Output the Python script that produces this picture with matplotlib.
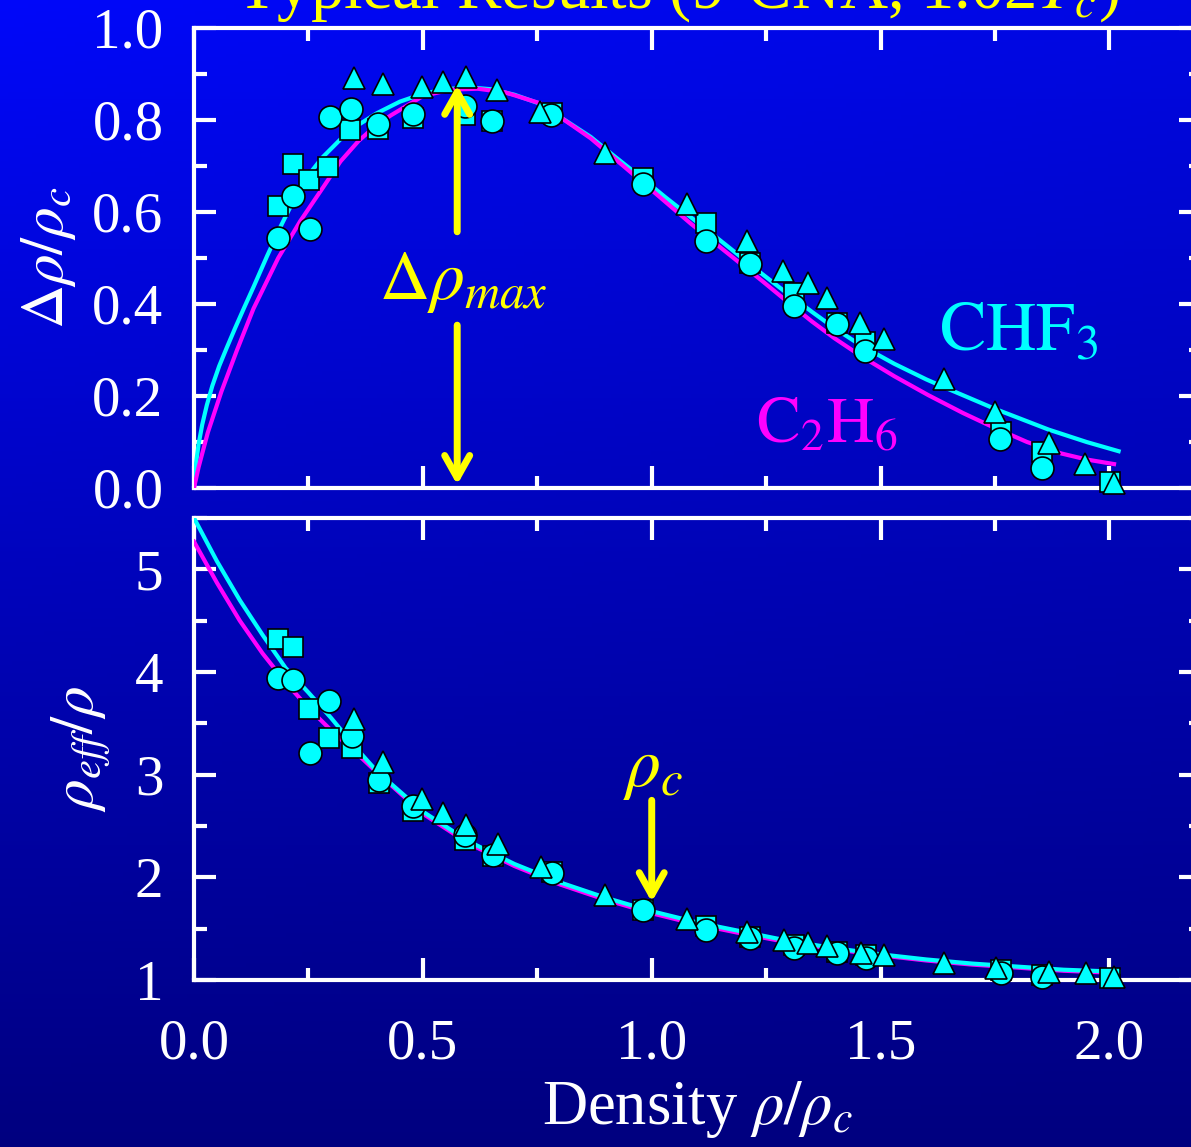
import numpy as np
import matplotlib
matplotlib.use('Agg')
import matplotlib.pyplot as plt
from matplotlib.ticker import MultipleLocator

plt.rcParams['font.family'] = ['Liberation Serif', 'DejaVu Serif']
plt.rcParams['mathtext.fontset'] = 'stix'

# ---- top panel: delta rho / rho_c ----
top_circ_x = [0.184, 0.217, 0.254, 0.298, 0.344, 0.403, 0.479, 0.591, 0.652, 0.781,
              0.980, 1.118, 1.214, 1.311, 1.405, 1.466, 1.761, 1.853]
top_circ_y = [0.543, 0.635, 0.563, 0.807, 0.824, 0.791, 0.813, 0.830, 0.798, 0.811,
              0.661, 0.537, 0.487, 0.396, 0.357, 0.298, 0.107, 0.043]
top_sq_x = [0.184, 0.217, 0.252, 0.293, 0.341, 0.403, 0.479, 0.591, 0.652, 0.783,
            0.980, 1.118, 1.214, 1.311, 1.405, 1.466, 1.763, 1.853, 2.002]
top_sq_y = [0.613, 0.704, 0.670, 0.698, 0.778, 0.780, 0.804, 0.811, 0.798, 0.815,
            0.674, 0.576, 0.490, 0.424, 0.359, 0.317, 0.122, 0.078, 0.013]
top_tri_x = [0.350, 0.414, 0.499, 0.543, 0.595, 0.663, 0.757, 0.897, 1.077, 1.208,
             1.287, 1.341, 1.383, 1.455, 1.508, 1.639, 1.750, 1.867, 1.947, 2.009]
top_tri_y = [0.891, 0.878, 0.872, 0.883, 0.893, 0.865, 0.817, 0.728, 0.617, 0.537,
             0.472, 0.445, 0.413, 0.359, 0.324, 0.237, 0.166, 0.098, 0.053, 0.010]

chf3_top_x = [0.0, 0.004, 0.01, 0.018, 0.028, 0.04, 0.055, 0.072, 0.09, 0.11, 0.13,
              0.16, 0.19, 0.22, 0.25, 0.28, 0.32, 0.36, 0.40, 0.45, 0.50, 0.55, 0.60,
              0.648, 0.70, 0.757, 0.81, 0.867, 0.92, 0.976, 1.03, 1.085, 1.16, 1.239,
              1.30, 1.35, 1.40, 1.457, 1.53, 1.60, 1.639, 1.75, 1.867, 1.95, 2.02]
chf3_top_y = [0.0, 0.05, 0.095, 0.138, 0.180, 0.222, 0.265, 0.306, 0.348, 0.393, 0.437,
              0.505, 0.57, 0.63, 0.68, 0.718, 0.758, 0.79, 0.815, 0.84, 0.857, 0.867, 0.871,
              0.867, 0.855, 0.835, 0.800, 0.763, 0.720, 0.676, 0.632, 0.589, 0.530, 0.467,
              0.420, 0.383, 0.347, 0.310, 0.270, 0.236, 0.219, 0.172, 0.127, 0.100, 0.080]
c2h6_top_x = [0.0, 0.01, 0.03, 0.06, 0.094, 0.13, 0.184, 0.232, 0.283, 0.32, 0.36,
              0.40, 0.43, 0.50, 0.56, 0.62, 0.68, 0.757, 0.867, 0.976, 1.085, 1.16, 1.239,
              1.30, 1.35, 1.40, 1.457, 1.53, 1.604, 1.68, 1.742, 1.82, 1.895, 1.95, 2.01]
c2h6_top_y = [0.0, 0.045, 0.12, 0.21, 0.30, 0.39, 0.50, 0.58, 0.655, 0.71, 0.755,
              0.79, 0.81, 0.852, 0.866, 0.868, 0.860, 0.836, 0.760, 0.668, 0.575, 0.515, 0.452,
              0.402, 0.362, 0.325, 0.287, 0.243, 0.202, 0.163, 0.134, 0.100, 0.075, 0.062, 0.052]

# ---- bottom panel: rho_eff / rho ----
bot_circ_x = [0.184, 0.217, 0.295, 0.254, 0.346, 0.405, 0.479, 0.591, 0.654, 0.783,
              0.980, 1.118, 1.214, 1.311, 1.405, 1.468, 1.763, 1.853]
bot_circ_y = [3.94, 3.92, 3.72, 3.21, 3.38, 2.95, 2.69, 2.41, 2.22, 2.04,
              1.68, 1.49, 1.41, 1.31, 1.26, 1.21, 1.07, 1.03]
bot_sq_x = [0.184, 0.217, 0.252, 0.295, 0.346, 0.405, 0.479, 0.591, 0.654, 0.783,
            0.980, 1.118, 1.214, 1.311, 1.405, 1.468, 1.763, 1.853, 2.002]
bot_sq_y = [4.32, 4.24, 3.64, 3.36, 3.26, 2.92, 2.65, 2.36, 2.21, 2.05,
            1.68, 1.53, 1.42, 1.34, 1.27, 1.24, 1.10, 1.05, 1.02]
bot_tri_x = [0.350, 0.414, 0.499, 0.543, 0.595, 0.665, 0.759, 0.897, 1.078, 1.209,
             1.289, 1.341, 1.383, 1.457, 1.508, 1.639, 1.753, 1.867, 1.948, 2.010]
bot_tri_y = [3.54, 3.12, 2.76, 2.63, 2.51, 2.32, 2.10, 1.83, 1.59, 1.47,
             1.39, 1.36, 1.33, 1.26, 1.24, 1.17, 1.12, 1.08, 1.07, 1.03]

chf3_bot_x = [0.0, 0.05, 0.10, 0.15, 0.20, 0.25, 0.30, 0.35, 0.40, 0.50, 0.60, 0.70,
              0.80, 0.90, 1.00, 1.10, 1.20, 1.30, 1.40, 1.50, 1.60, 1.70, 1.80, 1.90, 2.02]
chf3_bot_y = [5.50, 5.08, 4.70, 4.36, 4.04, 3.80, 3.55, 3.28, 3.03, 2.64, 2.35, 2.13,
              1.95, 1.80, 1.67, 1.56, 1.47, 1.38, 1.31, 1.25, 1.20, 1.16, 1.13, 1.10, 1.08]
c2h6_bot_x = [0.0, 0.05, 0.10, 0.15, 0.20, 0.25, 0.30, 0.35, 0.40, 0.50, 0.60, 0.70,
              0.80, 0.90, 1.00, 1.10, 1.20, 1.30, 1.40, 1.50, 1.60, 1.70, 1.80, 1.90, 2.01]
c2h6_bot_y = [5.27, 4.87, 4.50, 4.18, 3.90, 3.65, 3.43, 3.23, 3.02, 2.62, 2.33, 2.11,
              1.93, 1.78, 1.65, 1.54, 1.45, 1.365, 1.30, 1.24, 1.19, 1.15, 1.12, 1.09, 1.07]

CYAN = '#00ffff'
MAG = '#ff00ff'
YEL = '#ffff00'

fig = plt.figure(figsize=(11.91, 11.47), dpi=100)

# background gradient (bright blue top-left -> navy bottom)
bg = fig.add_axes([0, 0, 1, 1], zorder=-10)
yy, xx = np.mgrid[0:1:300j, 0:1:300j]
blue = 0.98 - 0.48 * yy - 0.09 * xx * (1 - yy)
img = np.dstack([np.zeros_like(blue), 0.03 * (1 - yy), blue])
bg.imshow(img, aspect='auto', extent=[0, 1, 0, 1], origin='upper')
bg.axis('off')

W, H = 1191, 1147
L, R = 194 / W, 1201 / W
ax1 = fig.add_axes([L, 1 - 488 / H, R - L, (488 - 28) / H])
ax2 = fig.add_axes([L, 1 - 980 / H, R - L, (980 - 518) / H])

mk = dict(ls='none', mfc=CYAN, mec='black', mew=1.2, zorder=5, clip_on=False)

for ax in (ax1, ax2):
    ax.set_facecolor('none')
    for s in ax.spines.values():
        s.set_color('white')
        s.set_linewidth(3)
    ax.set_xlim(0, 2.2)
    ax.xaxis.set_major_locator(MultipleLocator(0.5))
    ax.xaxis.set_minor_locator(MultipleLocator(0.25))
    ax.tick_params(which='both', direction='in', color='white', width=3,
                   top=True, right=True, labelcolor='white', labelsize=41)
    ax.tick_params(which='major', length=16)
    ax.tick_params(which='minor', length=9)

# top panel
ax1.plot(chf3_top_x, chf3_top_y, color=CYAN, lw=3, zorder=3, solid_joinstyle='round')
ax1.plot(c2h6_top_x, c2h6_top_y, color=MAG, lw=3, zorder=3, solid_joinstyle='round')
ax1.plot(top_sq_x, top_sq_y, marker='s', ms=14.5, **mk)
ax1.plot(top_circ_x, top_circ_y, marker='o', ms=16.5, **mk)
ax1.plot(top_tri_x, top_tri_y, marker='^', ms=16.5, **mk)
ax1.set_ylim(0, 1.0)
ax1.yaxis.set_major_locator(MultipleLocator(0.2))
ax1.yaxis.set_minor_locator(MultipleLocator(0.1))
ax1.yaxis.set_major_formatter(matplotlib.ticker.FormatStrFormatter('%.1f'))
ax1.tick_params(axis='x', labelbottom=False)
ax1.tick_params(axis='y', pad=22)
ax1.set_ylabel(r'$\Delta\rho/\rho_c$', color='white', fontsize=44, labelpad=10)

arr = dict(arrowstyle='->,head_length=0.8,head_width=0.45', color=YEL, lw=5,
           mutation_scale=20, shrinkA=0, shrinkB=0)
ax1.annotate('', xy=(0.575, 0.876), xytext=(0.575, 0.557), arrowprops=arr, zorder=6)
ax1.annotate('', xy=(0.575, 0.007), xytext=(0.575, 0.354), arrowprops=arr, zorder=6)
ax1.text(0.405, 0.41, r'$\Delta\rho_{max}$', color=YEL, fontsize=50, va='baseline', ha='left')
ax1.text(1.628, 0.30, r'$\mathrm{CHF}_3$', color=CYAN, fontsize=50, va='baseline', ha='left')
ax1.text(1.228, 0.098, r'$\mathrm{C}_2\mathrm{H}_6$', color=MAG, fontsize=47, va='baseline', ha='left')

# bottom panel
ax2.plot(chf3_bot_x, chf3_bot_y, color=CYAN, lw=3, zorder=3, solid_joinstyle='round')
ax2.plot(c2h6_bot_x, c2h6_bot_y, color=MAG, lw=3, zorder=2.9, solid_joinstyle='round')
ax2.plot(bot_sq_x, bot_sq_y, marker='s', ms=14.5, **mk)
ax2.plot(bot_circ_x, bot_circ_y, marker='o', ms=16.5, **mk)
ax2.plot(bot_tri_x, bot_tri_y, marker='^', ms=16.5, **mk)
ax2.set_ylim(1, 5.5)
ax2.yaxis.set_major_locator(MultipleLocator(1))
ax2.yaxis.set_minor_locator(MultipleLocator(0.5))
ax2.xaxis.set_major_formatter(matplotlib.ticker.FormatStrFormatter('%.1f'))
ax2.tick_params(axis='y', pad=22)
ax2.tick_params(axis='x', pad=28)
ax2.set_ylabel(r'$\rho_{eff}/\rho$', color='white', fontsize=44, labelpad=16)
ax2.set_xlabel(r'Density $\rho/\rho_c$', color='white', fontsize=45, labelpad=6)
ax2.annotate('', xy=(1.0, 1.76), xytext=(1.0, 2.75), arrowprops=arr, zorder=6)
ax2.text(0.937, 2.89, r'$\rho_c$', color=YEL, fontsize=50, va='baseline', ha='left')

# slide title, cut at the top edge as in the original
fig.text(0.569, 1 - 8 / H, r'Typical Results (9-CNA, 1.02$T_c$)', color=YEL,
         fontsize=48, ha='center', va='baseline')

fig.savefig('out.png', dpi=100)
